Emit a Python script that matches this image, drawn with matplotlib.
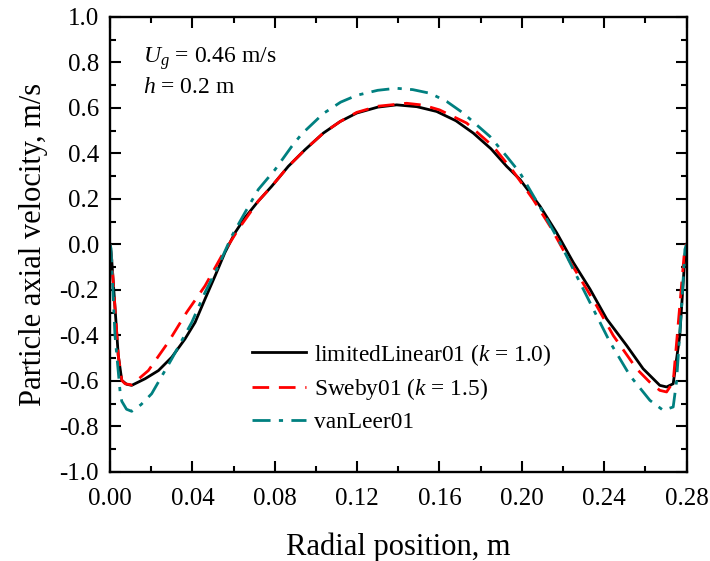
import matplotlib
matplotlib.use("Agg")
import matplotlib.pyplot as plt
from matplotlib.ticker import MultipleLocator

plt.rcParams['font.family'] = ['Liberation Serif', 'DejaVu Serif']
plt.rcParams['mathtext.fontset'] = 'custom'
plt.rcParams['mathtext.rm'] = 'Liberation Serif'
plt.rcParams['mathtext.it'] = 'Liberation Serif:italic'

# limitedLinear01 (k = 1.0)
x_lin = [0.0, 0.0008, 0.004, 0.0057, 0.0080, 0.0105, 0.017, 0.0235, 0.030, 0.0364,
         0.0413, 0.0461, 0.051, 0.0558, 0.0607, 0.0655, 0.072, 0.0785, 0.0866, 0.0947,
         0.1036, 0.1118, 0.1198, 0.1300, 0.1392, 0.1490, 0.1586, 0.1680, 0.1764, 0.1850,
         0.1926, 0.1991, 0.2088, 0.2169, 0.225, 0.2331, 0.2412, 0.2509, 0.2589, 0.267,
         0.2703, 0.2735, 0.2767, 0.2792, 0.280]
y_lin = [0.0, -0.066, -0.489, -0.598, -0.615, -0.620, -0.591, -0.555, -0.496, -0.416,
         -0.343, -0.241, -0.139, -0.036, 0.051, 0.117, 0.190, 0.255, 0.343, 0.416,
         0.489, 0.540, 0.577, 0.603, 0.613, 0.605, 0.584, 0.543, 0.489, 0.420,
         0.343, 0.285, 0.168, 0.051, -0.080, -0.197, -0.328, -0.445, -0.547, -0.620,
         -0.627, -0.613, -0.401, -0.05, 0.0]

# Sweby01 (k = 1.5)
x_swe = [0.0, 0.0008, 0.004, 0.0057, 0.0073, 0.0105, 0.0186, 0.0283, 0.0372, 0.0461,
         0.0542, 0.0623, 0.072, 0.0785, 0.0866, 0.0947, 0.1036, 0.1118, 0.1198, 0.1300,
         0.1440, 0.1520, 0.160, 0.1732, 0.1861, 0.1958, 0.2055, 0.2140, 0.2217, 0.2290,
         0.2363, 0.2444, 0.2557, 0.262, 0.267, 0.2703, 0.2735, 0.2767, 0.2792, 0.280]
y_swe = [0.0, -0.066, -0.489, -0.598, -0.613, -0.618, -0.555, -0.430, -0.299, -0.183,
         -0.051, 0.066, 0.190, 0.255, 0.343, 0.416, 0.489, 0.540, 0.580, 0.607,
         0.620, 0.612, 0.591, 0.533, 0.430, 0.321, 0.197, 0.075, -0.051, -0.160,
         -0.270, -0.401, -0.547, -0.605, -0.642, -0.649, -0.605, -0.270, -0.007, 0.0]

# vanLeer01
x_van = [0.0, 0.0005, 0.0024, 0.0049, 0.0057, 0.0080, 0.0105, 0.0150, 0.0202, 0.030,
         0.0397, 0.0461, 0.0526, 0.0591, 0.0655, 0.072, 0.0801, 0.0882, 0.0931, 0.1036,
         0.1120, 0.1198, 0.1300, 0.139, 0.1470, 0.1554, 0.1635, 0.1715, 0.1845, 0.1926,
         0.1991, 0.2104, 0.2185, 0.2266, 0.2347, 0.2428, 0.2525, 0.2622, 0.2687, 0.2735,
         0.2751, 0.2776, 0.2792, 0.280]
y_van = [0.0, -0.02, -0.401, -0.650, -0.690, -0.725, -0.734, -0.705, -0.657, -0.503,
         -0.343, -0.212, -0.095, 0.036, 0.139, 0.241, 0.328, 0.430, 0.485, 0.575,
         0.625, 0.655, 0.677, 0.686, 0.680, 0.664, 0.628, 0.577, 0.474, 0.387,
         0.314, 0.139, 0.007, -0.139, -0.285, -0.430, -0.577, -0.686, -0.730, -0.715,
         -0.605, -0.270, -0.022, 0.0]

fig = plt.figure(figsize=(7.1, 5.61), dpi=100)
ax = fig.add_axes([0.155, 0.159, 0.812, 0.811])

ax.plot(x_lin, y_lin, color='black', lw=2.0, label='limitedLinear01 ($k$ = 1.0)')
ax.plot(x_swe, y_swe, color='#ff0000', lw=2.0, dashes=(6, 3.5), label='Sweby01 ($k$ = 1.5)')
ax.plot(x_van, y_van, color='#008080', lw=2.0, dashes=(6.5, 3, 1.5, 3), label='vanLeer01')

ax.set_xlim(0, 0.28)
ax.set_ylim(-1.0, 1.0)
ax.xaxis.set_major_locator(MultipleLocator(0.04))
ax.xaxis.set_minor_locator(MultipleLocator(0.02))
ax.yaxis.set_major_locator(MultipleLocator(0.2))
ax.yaxis.set_minor_locator(MultipleLocator(0.1))
ax.set_xticklabels([f'{v:.2f}' for v in ax.get_xticks()])
ax.set_yticklabels([f'{v:.1f}' for v in ax.get_yticks()])

ax.tick_params(which='both', direction='in', top=True, right=True, width=1.5, labelsize=18)
ax.tick_params(which='major', length=8, pad=8)
ax.tick_params(axis='x', which='major', pad=12)
ax.tick_params(which='minor', length=4.5)
for s in ax.spines.values():
    s.set_linewidth(1.7)

ax.set_xlabel('Radial position, m', fontsize=22, labelpad=16)
ax.set_ylabel('Particle axial velocity, m/s', fontsize=22, labelpad=8)

ax.text(0.057, 0.900, '$U_g$ = 0.46 m/s', transform=ax.transAxes, fontsize=17)
ax.text(0.057, 0.833, '$h$ = 0.2 m', transform=ax.transAxes, fontsize=17)

ax.legend(loc='upper left', bbox_to_anchor=(0.246, 0.286), frameon=False, fontsize=16.8,
          handlelength=2.3, handletextpad=0.35, labelspacing=0.38, borderpad=0, borderaxespad=0)

fig.savefig('out.png', dpi=100)
